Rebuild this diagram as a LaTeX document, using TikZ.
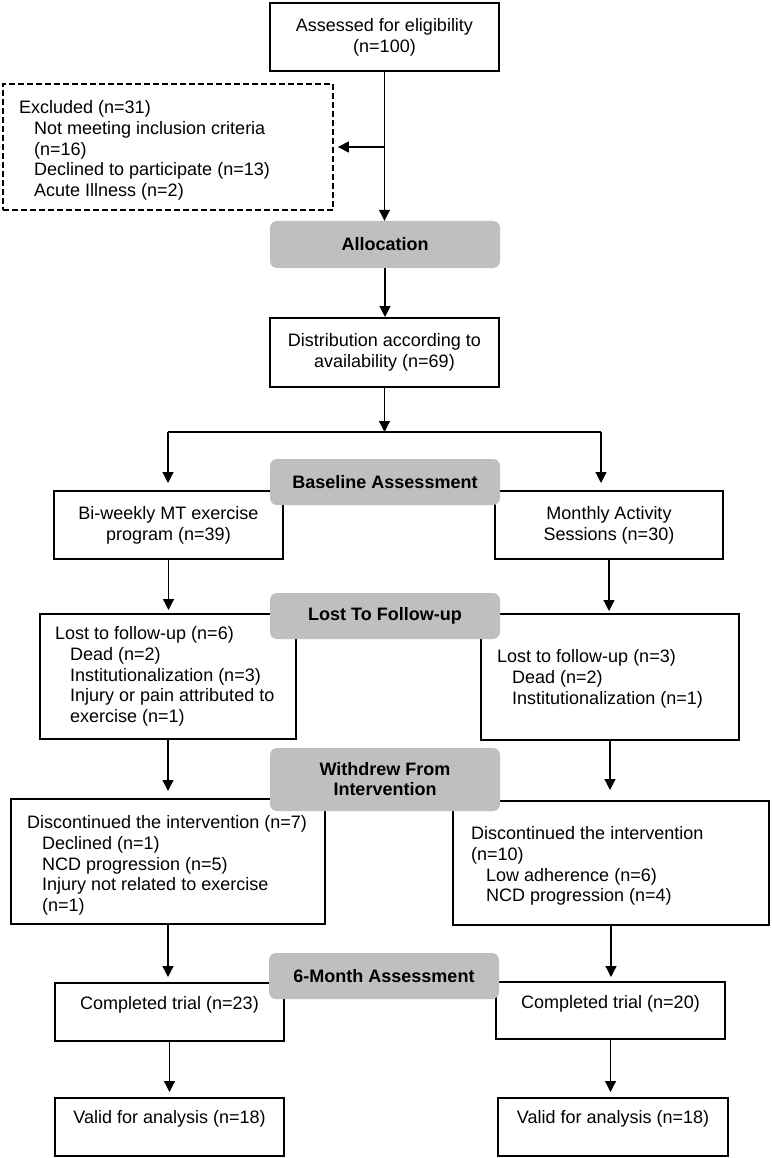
\documentclass[tikz,border=0pt]{standalone}
\usepackage{fontspec}
\setmainfont{Liberation Sans}
\usetikzlibrary{arrows.meta}
\definecolor{grayfill}{RGB}{191,191,191}
\newcommand{\myind}{\hspace*{15pt}}
\begin{document}
\begin{tikzpicture}[x=1pt,y=-1pt,
  every node/.style={font=\fontsize{18}{20.7}\selectfont},
  box/.style={draw, line width=2pt, fill=white, inner sep=0pt, align=center},
  dbox/.style={draw, line width=1.8pt, dash pattern=on 6pt off 3pt, inner sep=0pt},
  gbox/.style={fill=grayfill, rounded corners=7pt, inner sep=0pt, align=center, font=\fontsize{18}{20}\selectfont\bfseries},
  txt/.style={inner sep=0pt, anchor=north west, align=left},
  ctxt/.style={inner sep=0pt, anchor=center},
  arr/.style={line width=1.2pt, -{Triangle[length=11pt,width=11pt]}},
  ln/.style={line width=1.2pt}]
\useasboundingbox (0,0) rectangle (771,1158);

% white boxes
\node[box, minimum width=229pt, minimum height=68pt] (assess) at (384.5,37) {Assessed for eligibility\\(n=100)};
\node[dbox, minimum width=330pt, minimum height=126pt] (excl) at (168,147) {};
\node[txt] (excltxt) at (19,100.4) {Excluded (n=31)\\\myind Not meeting inclusion criteria\\\myind (n=16)\\\myind Declined to participate (n=13)\\\myind Acute Illness (n=2)};
\node[box, minimum width=229pt, minimum height=69pt] (distr) at (384.5,352.5) {Distribution according to\\availability (n=69)};
\node[box, minimum width=229pt, minimum height=68pt] (biw) at (168.5,525) {Bi-weekly MT exercise\\program (n=39)};
\node[box, minimum width=228pt, minimum height=68pt] (mon) at (609,525) {Monthly Activity\\Sessions (n=30)};
\node[box, minimum width=256pt, minimum height=125pt] (lostL) at (168,676.5) {};
\node[txt] (lostLtxt) at (55,626.4) {Lost to follow-up (n=6)\\\myind Dead (n=2)\\\myind Institutionalization (n=3)\\\myind Injury or pain attributed to\\\myind exercise (n=1)};
\node[box, minimum width=258pt, minimum height=126pt] (lostR) at (610,677) {};
\node[txt] (lostRtxt) at (497,649.4) {Lost to follow-up (n=3)\\\myind Dead (n=2)\\\myind Institutionalization (n=1)};
\node[box, minimum width=314pt, minimum height=125pt] (discL) at (168,861.5) {};
\node[txt] (discLtxt) at (27,815.4) {Discontinued the intervention (n=7)\\\myind Declined (n=1)\\\myind NCD progression (n=5)\\\myind Injury not related to exercise\\\myind (n=1)};
\node[box, minimum width=316pt, minimum height=124pt] (discR) at (611,863) {};
\node[txt] (discRtxt) at (471,826.4) {Discontinued the intervention\\(n=10)\\\myind Low adherence (n=6)\\\myind NCD progression (n=4)};
\node[box, minimum width=229pt, minimum height=58pt] (compL) at (169.5,1012) {};
\node[ctxt] (compLtxt) at (169.5,1004.5) {Completed trial (n=23)};
\node[box, minimum width=229pt, minimum height=57pt] (compR) at (610.5,1010.5) {};
\node[ctxt] (compRtxt) at (610.5,1003.5) {Completed trial (n=20)};
\node[box, minimum width=229pt, minimum height=58pt] (validL) at (169.5,1127) {};
\node[ctxt] (validLtxt) at (169.5,1118.5) {Valid for analysis (n=18)};
\node[box, minimum width=230pt, minimum height=58pt] (validR) at (613,1127) {};
\node[ctxt] (validRtxt) at (613,1118.5) {Valid for analysis (n=18)};

% gray phase boxes
\node[gbox, minimum width=230pt, minimum height=47pt] (alloc) at (385,244.5) {Allocation};
\node[gbox, minimum width=230pt, minimum height=46pt] (base) at (385,482) {Baseline Assessment};
\node[gbox, minimum width=230pt, minimum height=46pt] (lostg) at (385,616) {Lost To Follow-up};
\node[gbox, minimum width=230pt, minimum height=63pt] (withg) at (385,779.5) {Withdrew From\\Intervention};
\node[gbox, minimum width=230pt, minimum height=46pt] (sixg) at (384,976) {6-Month Assessment};

% connectors
\coordinate (b1) at (assess.south |- excl.east);
\draw[arr] (assess.south) -- (assess.south |- alloc.north);
\draw[arr, shorten >=4pt] (b1) -- (excl.east);
\draw[arr] (alloc.south) -- (alloc.south |- distr.north);
\coordinate (split) at (distr.south |- 0,432);
\coordinate (sL) at (168,432);
\coordinate (sR) at (601,432);
\draw[arr] (distr.south) -- (split);
\draw[ln] (sL) -- (sR);
\draw[arr, shorten >=7pt] (sL) -- (sL |- biw.north);
\draw[arr, shorten >=7pt] (sR) -- (sR |- mon.north);
\draw[arr, shorten >=3pt] (biw.south) -- (biw.south |- lostL.north);
\draw[arr, shorten >=2pt] (mon.south) -- (mon.south |- lostR.north);
\draw[arr, shorten >=7pt] (lostL.south) -- (lostL.south |- discL.north);
\draw[arr, shorten >=10pt] (lostR.south) -- (lostR.south |- discR.north);
\draw[arr, shorten >=5pt] (discL.south) -- (discL.south |- compL.north);
\draw[arr, shorten >=4pt] (discR.south) -- (discR.south |- compR.north);
\draw[arr, shorten >=5pt] (compL.south) -- (compL.south |- validL.north);
\draw[arr, shorten >=5pt] (compR.south) -- (compR.south |- validR.north);
\end{tikzpicture}
\end{document}
